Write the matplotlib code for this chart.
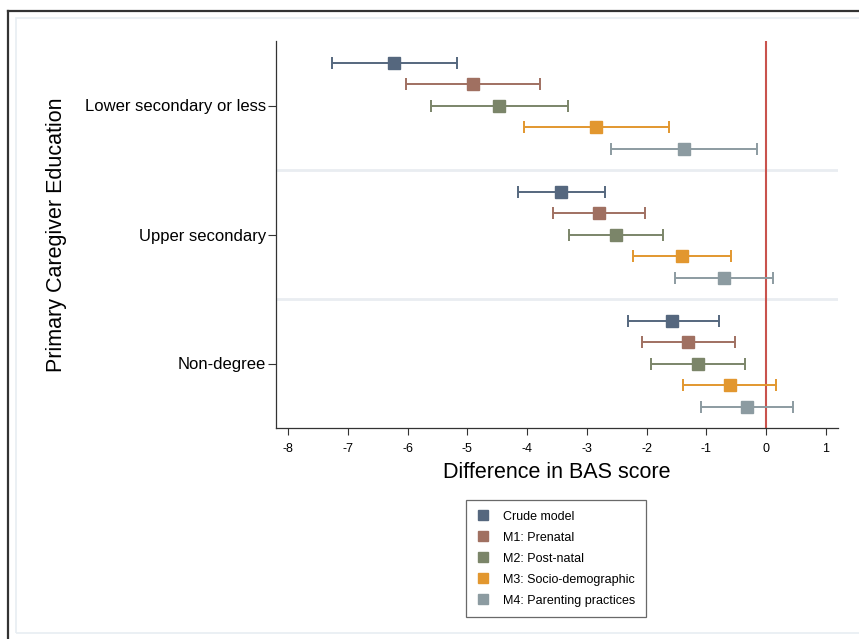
import matplotlib
matplotlib.use("Agg")
from matplotlib import pyplot as plt
from matplotlib.lines import Line2D
from matplotlib.patches import Rectangle

plt.rcParams['font.family'] = ['Liberation Sans', 'DejaVu Sans']

# Data
groups = ["Lower secondary or less", "Upper secondary", "Non-degree"]
models = ["Crude model", "M1: Prenatal", "M2: Post-natal",
          "M3: Socio-demographic", "M4: Parenting practices"]
colors = ["#55677e", "#a07061", "#7b8569", "#e2972f", "#8c9ba1"]

# estimates per group (rows = models)
est_lower = [-6.22, -4.91, -4.47, -2.84, -1.38]
lo_lower = [-7.27, -6.02, -5.61, -4.05, -2.59]
hi_lower = [-5.18, -3.79, -3.31, -1.63, -0.15]

est_upper = [-3.43, -2.79, -2.52, -1.41, -0.71]
lo_upper = [-4.16, -3.56, -3.30, -2.23, -1.53]
hi_upper = [-2.70, -2.03, -1.72, -0.59, 0.11]

est_nondeg = [-1.57, -1.31, -1.14, -0.61, -0.33]
lo_nondeg = [-2.32, -2.07, -1.92, -1.39, -1.09]
hi_nondeg = [-0.79, -0.53, -0.36, 0.16, 0.44]

x_ticks = [-8, -7, -6, -5, -4, -3, -2, -1, 0, 1]

estimates = [est_lower, est_upper, est_nondeg]
lows = [lo_lower, lo_upper, lo_nondeg]
highs = [hi_lower, hi_upper, hi_nondeg]

# Figure
fig = plt.figure(figsize=(8.59, 6.39), dpi=100)

# outer frame lines and inner light frame
fig.add_artist(Line2D([7.5 / 859, 7.5 / 859], [0, 1 - 11 / 639], color="#333333", lw=1.6, transform=fig.transFigure))
fig.add_artist(Line2D([7.5 / 859, 1], [1 - 11 / 639, 1 - 11 / 639], color="#333333", lw=1.6, transform=fig.transFigure))
fig.add_artist(Rectangle((16 / 859, 1 - 633 / 639), 1.0, (633 - 18) / 639, fill=False,
                         edgecolor="#e8edf2", lw=1.2, transform=fig.transFigure))

ax = fig.add_axes([276 / 859, 1 - 428 / 639, (838 - 276) / 859, (428 - 41) / 639])

# separators between groups
for ysep in [5, 11]:
    ax.axhline(ysep, color="#e9edf1", lw=2, zorder=1)

ax.axvline(0, color="#c9534d", lw=1.5, zorder=2)

for g in range(len(groups)):
    for m in range(len(models)):
        y = g * 6 + m
        e = estimates[g][m]
        ax.errorbar(e, y, xerr=[[e - lows[g][m]], [highs[g][m] - e]], fmt="s",
                    color=colors[m], ecolor=colors[m], markersize=9, elinewidth=1.4,
                    capsize=4, capthick=1.4, zorder=3)

ax.set_xlim(-8.2, 1.2)
ax.set_ylim(17, -1)
ax.set_xticks(x_ticks)
ax.set_xticklabels([str(t) for t in x_ticks])
ax.set_yticks([2, 8, 14])
ax.set_yticklabels(groups, fontsize=12)
ax.tick_params(axis="x", labelsize=9, length=5, width=0.8, color="#333333", pad=6)
ax.tick_params(axis="y", length=6, width=0.8, color="#333333", pad=1)

for side in ["top", "right"]:
    ax.spines[side].set_visible(False)
for side in ["left", "bottom"]:
    ax.spines[side].set_color("#333333")
    ax.spines[side].set_linewidth(0.9)

ax.set_xlabel("Difference in BAS score", fontsize=15.5, labelpad=5)
ax.set_ylabel("Primary Caregiver Education", fontsize=15.5, labelpad=13)

# Legend
handles = [Line2D([], [], marker="s", linestyle="none", color=c, markersize=7) for c in colors]
leg = fig.legend(handles, models, loc="upper left", bbox_to_anchor=(466 / 859, 1 - 500 / 639),
                 fontsize=9, frameon=True, fancybox=False, edgecolor="#444444",
                 handlelength=1.0, handletextpad=1.1, labelspacing=0.72,
                 borderpad=0.85, borderaxespad=0)
leg.get_frame().set_linewidth(0.9)

fig.savefig("out.png", dpi=100)
